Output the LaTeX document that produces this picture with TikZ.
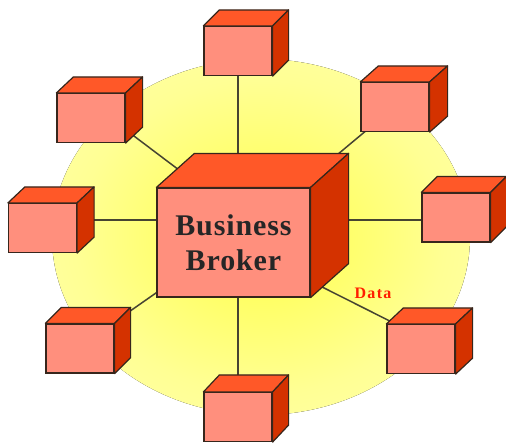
\documentclass[tikz,border=0pt]{standalone}
\usepackage{fontspec}
\setmainfont{Liberation Serif}

\definecolor{facefront}{RGB}{255,143,125}
\definecolor{facetop}{RGB}{255,88,40}
\definecolor{faceside}{RGB}{212,50,0}
\definecolor{edge}{RGB}{55,38,28}
\definecolor{linkgray}{RGB}{70,68,50}
\definecolor{datared}{RGB}{255,30,0}

\pgfdeclareradialshading{glow}{\pgfpoint{0bp}{0bp}}{color(0bp)=(yellow!72); color(22bp)=(yellow!42); color(50bp)=(yellow!20)}
\pgfdeclarelayer{back}
\pgfdeclarelayer{links}
\pgfsetlayers{back,links,main}

\tikzset{
  front/.style={draw=edge, line width=1.2pt, fill=facefront, inner sep=0pt},
  small/.style={front, minimum width=68pt, minimum height=49pt},
  topside/.style={draw=edge, line width=1.2pt, line join=round, fill=facetop},
  rightside/.style={draw=edge, line width=1.2pt, line join=round, fill=faceside},
  link/.style={draw=linkgray, line width=1.5pt},
}

% name, style, front centre, depth x, depth y, text
\newcommand{\drawcube}[6]{%
  \node[#2] (#1) at (#3) {#6};
  \draw[topside] (#1.north west) -- ++(#4,#5) -- ([shift={(#4,#5)}]#1.north east) -- (#1.north east) -- cycle;
  \draw[rightside] (#1.north east) -- ++(#4,#5) -- ([shift={(#4,#5)}]#1.south east) -- (#1.south east) -- cycle;
  \coordinate (#1-c) at ([shift={(#4/2,#5/2)}]#1.center);
}

\begin{document}
\begin{tikzpicture}[x=1pt, y=-1pt]
    \useasboundingbox (0,0) rectangle (506,445);
    \begin{pgfonlayer}{back}
        \fill[shading=glow] (261,237) ellipse (209 and 178);
    \end{pgfonlayer}

    \drawcube{broker}{front, minimum width=153pt, minimum height=109pt,
        font=\fontsize{30}{35}\selectfont\bfseries\addfontfeature{LetterSpace=3}, text=black!85, align=center}
        {233.5,242.5}{38}{-34}{Business\\Broker}

    \drawcube{top}{small}{238,51}{16}{-16}{}
    \drawcube{ul}{small}{91,118}{17}{-16}{}
    \drawcube{ur}{small}{395,107}{18}{-16}{}
    \drawcube{left}{small}{42.5,228}{17}{-16}{}
    \drawcube{right}{small}{456,217.5}{16}{-16}{}
    \drawcube{ll}{small}{80,348.5}{16}{-16}{}
    \drawcube{lr}{small}{421,349}{17}{-16}{}
    \drawcube{bottom}{small}{238,417}{16}{-17}{}

    \begin{pgfonlayer}{links}
        \draw[link] (top) -- (bottom);
        \draw[link] (left-c) -- (left-c -| right);
        \draw[link] (ul-c) -- (broker-c);
        \draw[link] (ur-c) -- (broker-c);
        \draw[link] (ll-c) -- (broker-c);
        \draw[link] (lr-c) -- (broker);
    \end{pgfonlayer}

    \node[text=datared, font=\fontsize{16}{16}\selectfont\bfseries\addfontfeature{LetterSpace=8}] (data) at (373,293) {Data};
\end{tikzpicture}
\end{document}
